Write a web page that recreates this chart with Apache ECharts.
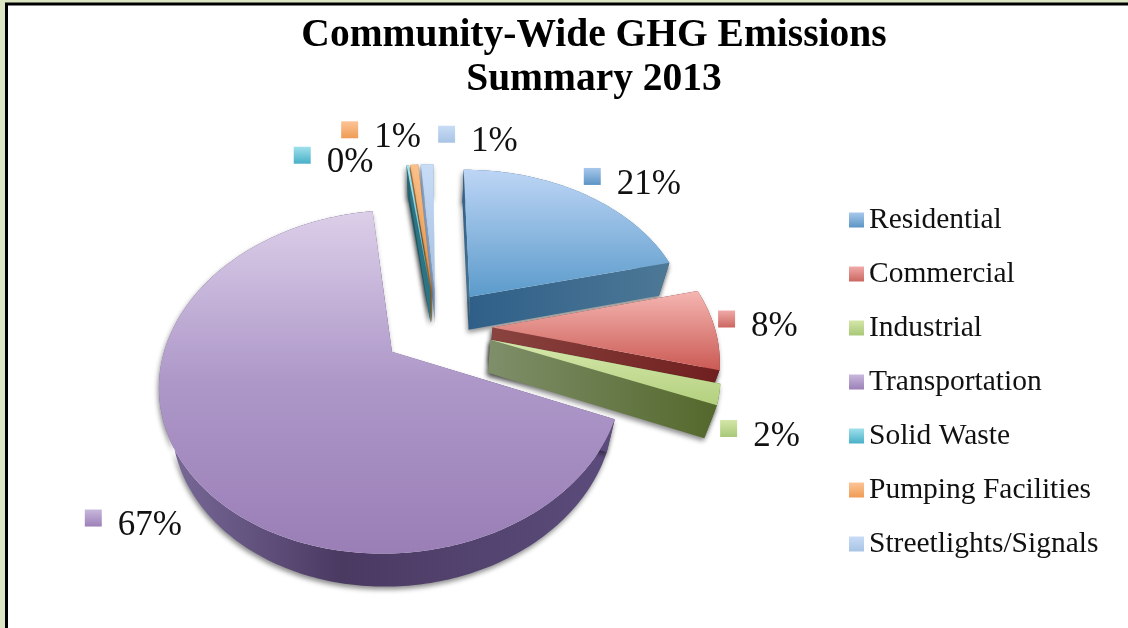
<!DOCTYPE html>
<html>
<head>
<meta charset="utf-8">
<title>Community-Wide GHG Emissions Summary 2013</title>
<script src="https://cdn.jsdelivr.net/npm/echarts@6/dist/echarts.min.js"></script>
<style>
  html, body { margin: 0; padding: 0; background: #dde6c3; }
  #main { width: 1128px; height: 628px; }
</style>
</head>
<body>
<div id="main"></div>
<script>
// values, the labels only show them rounded
var categories = ["Residential", "Commercial", "Industrial", "Transportation", "Solid Waste", "Pumping Facilities", "Streetlights/Signals"];
var shares = [21.3, 8, 2, 66.7, 0.2, 0.7, 1.1];

// far slices first so nearer ones paint over them
var drawOrder = [6, 5, 4, 0, 1, 2, 3];

var topColors = [
  [[0, "#bdd5f5"], [1, "#5b9bcb"]],
  [[0, "#f5b6b2"], [1, "#cb5a54"]],
  [[0, "#d6e8ac"], [1, "#b3d07e"]],
  [[0, "#dccfe9"], [0.5, "#ad97c8"], [1, "#9a7eb6"]],
  [[0, "#a8e4ee"], [1, "#4fb4c8"]],
  [[0, "#fbc08a"], [1, "#e89444"]],
  [[0, "#c8dcf6"], [1, "#a4c0e0"]]
];
var sideColors = [
  [[0, "#2f5f88"], [1, "#4d7896"]],
  [[0, "#8a4440"], [1, "#701f1f"]],
  [[0, "#7f8f6a"], [1, "#54682c"]],
  [[0, "#7c6c9c"], [0.4, "#4a3a62"], [1, "#5c4c7c"]],
  [[0, "#2c7484"], [1, "#2c7484"]],
  [[0, "#b07434"], [1, "#b07434"]],
  [[0, "#88a4c8"], [1, "#88a4c8"]]
];
var markColors = [
  [[0, "#a8c8ec"], [1, "#5c94c4"]],
  [[0, "#f0aaa8"], [1, "#cc6660"]],
  [[0, "#d4e6a8"], [1, "#a8c878"]],
  [[0, "#c8b8dc"], [1, "#9c80b8"]],
  [[0, "#a0e0ec"], [1, "#48b0c8"]],
  [[0, "#fcc498"], [1, "#f09c54"]],
  [[0, "#c8dcf6"], [1, "#a8c4e4"]]
];
// label marker position relative to the middle of the slice's arc
var labelNudge = [[1, -17], [3, -10], [1, 34], [-100, 52], [-114, -10], [-73, -35], [11, -30]];

var fontFamily = '"Liberation Serif", serif';
var centerX = 437, centerY = 327;
var radiusX = 222, radiusY = 158;
var perspective = 0.17;
var explode = 0.25;
var depth = 33;
var taper = 0.045;
var startAngle = -0.5;

var total = shares.reduce(function (a, b) { return a + b; }, 0);

function grad(stops, horizontal) {
  return {
    type: "linear", x: 0, y: 0, x2: horizontal ? 1 : 0, y2: horizontal ? 0 : 1,
    colorStops: stops.map(function (s) { return { offset: s[0], color: s[1] }; })
  };
}

function rad(deg) { return deg * Math.PI / 180; }

// angles are clockwise from twelve o'clock, y grows towards the viewer
function project(angle, r, mid) {
  var X = explode * Math.sin(rad(mid)) + r * Math.sin(rad(angle));
  var Y = -explode * Math.cos(rad(mid)) - r * Math.cos(rad(angle));
  var s = 1 / (1 - perspective * Y);
  return [centerX + radiusX * X * s, centerY + radiusY * Y * s];
}

// the underside sits a little closer to the middle, like the vertical lines converging
function down(p) { return [p[0] - (p[0] - centerX) * taper, p[1] + depth]; }

function sliceRenderer(idx) {
  return function (params, api) {
    var value = api.value(0);
    var before = shares.slice(0, idx).reduce(function (a, b) { return a + b; }, 0);
    var a0 = startAngle + before / total * 360;
    var a1 = a0 + value / total * 360;
    var mid = (a0 + a1) / 2;

    var arc = [];
    var steps = Math.max(2, Math.ceil(a1 - a0));
    for (var i = 0; i <= steps; i++) {
      arc.push(project(a0 + (a1 - a0) * i / steps, 1, mid));
    }
    var apex = project(0, 0, mid);
    var shadow = { shadowBlur: 5, shadowOffsetX: -1, shadowOffsetY: 3, shadowColor: "rgba(0,0,0,0.45)" };
    var sideFill = grad(sideColors[idx], true);
    var first = arc[0], last = arc[arc.length - 1];

    var anchor = project(mid, 1, mid);
    var mx = anchor[0] + labelNudge[idx][0];
    var my = anchor[1] + labelNudge[idx][1];

    return {
      type: "group",
      children: [
        { type: "polygon", shape: { points: arc.concat(arc.slice().reverse().map(down)) },
          style: Object.assign({ fill: sideFill }, shadow) },
        { type: "polygon", shape: { points: [apex, first, down(first), down(apex)] },
          style: Object.assign({ fill: sideFill }, shadow) },
        { type: "polygon", shape: { points: [apex, last, down(last), down(apex)] },
          style: Object.assign({ fill: sideFill }, shadow) },
        { type: "polygon", shape: { points: [apex].concat(arc) },
          style: { fill: grad(topColors[idx]) } },
        { type: "rect", shape: { x: mx, y: my - 8.5, width: 17, height: 17 },
          style: { fill: grad(markColors[idx]) } },
        { type: "text",
          style: { x: mx + 33, y: my + 8, text: Math.round(value) + "%", fill: "#111",
                   font: '35px ' + fontFamily, align: "left", verticalAlign: "middle" } }
      ]
    };
  };
}

var chart = echarts.init(document.getElementById("main"));

chart.setOption({
  animation: false,
  backgroundColor: "#dde6c3",
  title: {
    text: "Community-Wide GHG Emissions\nSummary 2013",
    left: 589,
    top: 9,
    textAlign: "center",
    textStyle: { fontFamily: fontFamily, fontWeight: "bold", fontSize: 39.5, lineHeight: 44, color: "#000" }
  },
  legend: {
    orient: "vertical",
    left: 844,
    top: 200,
    selectedMode: false,
    data: categories,
    icon: "rect",
    itemWidth: 15,
    itemHeight: 15,
    itemGap: 24,
    textStyle: { fontFamily: fontFamily, fontSize: 29.5, lineHeight: 30, color: "#111" }
  },
  graphic: [{
    type: "rect",
    z: -1,
    shape: { x: 6.5, y: 4, width: 1300, height: 800 },
    style: { fill: "#fff", stroke: "#000", lineWidth: 3 }
  }],
  series: drawOrder.map(function (idx, i) {
    return {
      type: "custom",
      name: categories[idx],
      coordinateSystem: "none",
      z: 2 + i,
      itemStyle: { color: grad(markColors[idx]) },
      renderItem: sliceRenderer(idx),
      data: [[shares[idx]]]
    };
  })
});
</script>
</body>
</html>
